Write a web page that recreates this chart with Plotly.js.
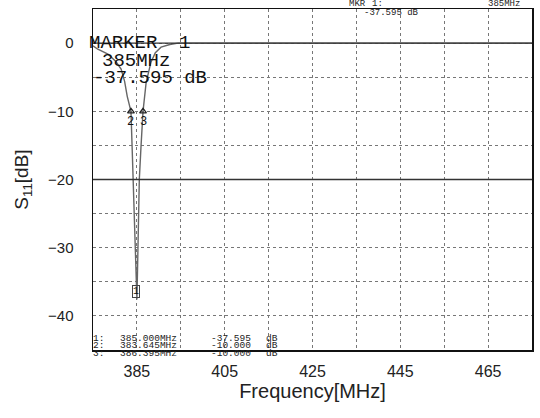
<!DOCTYPE html>
<html>
<head>
<meta charset="utf-8">
<script src="https://cdn.plot.ly/plotly-3.0.1.min.js"></script>
<style>html,body{margin:0;padding:0;background:#fff;}#chart{width:540px;height:418px;}</style>
</head>
<body>
<div id="chart"></div>
<script>
// Measured S11 trace (MHz, dB)
const freqMHz = [375, 376.1, 378.4, 380.2, 381.4, 382.2, 382.8, 383.645, 383.9, 384.15, 384.5, 384.8, 385,
                 385.15, 385.3, 385.55, 385.95, 386.395, 387.1, 388.2, 389.2, 390.5, 392.5, 394.4,
                 400, 410, 420, 430, 440, 450, 460, 470, 475];
const s11dB   = [-0.4, -0.9, -1.6, -2.7, -3.8, -5.6, -7.8, -10, -15, -20, -27, -33, -37.595,
                 -33, -27, -20, -15, -10, -5.8, -2.8, -1.4, -0.6, -0.2, 0,
                 0, 0, 0, 0, 0, 0, 0, 0, 0];

// Markers
const markerIds   = ["1", "2", "3"];
const markerFreq  = [385.000, 383.645, 386.395];
const markerDb    = [-37.595, -10.000, -10.000];
const markerFreqText = ["385.000MHz", "383.645MHz", "386.395MHz"];
const markerDbText   = ["-37.595", "-10.000", "-10.000"];

// Axis ticks
const xTickVals = [385, 405, 425, 445, 465];
const xGrid = [375, 385, 395, 405, 415, 425, 435, 445, 455, 465, 475];
const yTickVals = [0, -10, -20, -30, -40];
const yGrid = [5, 0, -5, -10, -15, -20, -25, -30, -35, -40, -45];
const refLines = [0, -20];

const L = 93, R = 532, T = 9, B = 350;
const px = x => (x - L) / (R - L);
const py = y => 1 - (y - T) / (B - T);
const mono = "Liberation Mono, DejaVu Sans Mono, monospace";
const sans = "Liberation Sans, Arial, sans-serif";

const annotations = [];
// Big marker readout
annotations.push({xref:'paper', yref:'paper', x:px(87), y:py(43), xanchor:'left', yanchor:'middle', text:'MARKER', showarrow:false, font:{family:mono, size:19, color:'#111'}});
annotations.push({xref:'paper', yref:'paper', x:px(177), y:py(43), xanchor:'left', yanchor:'middle', text:'1', showarrow:false, font:{family:mono, size:19, color:'#111'}});
annotations.push({xref:'paper', yref:'paper', x:px(100), y:py(61), xanchor:'left', yanchor:'middle', text:'385MHz', showarrow:false, font:{family:mono, size:19, color:'#111'}});
annotations.push({xref:'paper', yref:'paper', x:px(91), y:py(78), xanchor:'left', yanchor:'middle', text:'-37.595 dB', showarrow:false, font:{family:mono, size:19, color:'#111'}});
// Top readout
annotations.push({xref:'paper', yref:'paper', x:px(347), y:py(4), xanchor:'left', yanchor:'middle', text:'MKR', showarrow:false, font:{family:mono, size:9, color:'#222'}});
annotations.push({xref:'paper', yref:'paper', x:px(370), y:py(4), xanchor:'left', yanchor:'middle', text:'1:', showarrow:false, font:{family:mono, size:9, color:'#222'}});
annotations.push({xref:'paper', yref:'paper', x:px(362), y:py(13), xanchor:'left', yanchor:'middle', text:'-37.595 dB', showarrow:false, font:{family:mono, size:9, color:'#222'}});
annotations.push({xref:'paper', yref:'paper', x:px(486), y:py(4), xanchor:'left', yanchor:'middle', text:'385MHz', showarrow:false, font:{family:mono, size:9, color:'#222'}});
// Bottom marker table
const rowY = [338, 345.5, 353];
for (let i = 0; i < markerIds.length; i++) {
  const f = {family:mono, size:9.5, color:'#222'};
  annotations.push({xref:'paper', yref:'paper', x:px(92), y:py(rowY[i]), xanchor:'left', yanchor:'middle', text:markerIds[i] + ':', showarrow:false, font:f, borderpad:0});
  annotations.push({xref:'paper', yref:'paper', x:px(119), y:py(rowY[i]), xanchor:'left', yanchor:'middle', text:markerFreqText[i], showarrow:false, font:f, borderpad:0});
  annotations.push({xref:'paper', yref:'paper', x:px(210), y:py(rowY[i]), xanchor:'left', yanchor:'middle', text:markerDbText[i], showarrow:false, font:f, borderpad:0});
  annotations.push({xref:'paper', yref:'paper', x:px(265), y:py(rowY[i]), xanchor:'left', yanchor:'middle', text:'dB', showarrow:false, font:f, borderpad:0});
}
// Marker labels on trace
annotations.push({x:markerFreq[0], y:markerDb[0], xref:'x', yref:'y', text:markerIds[0], showarrow:false, yshift:8, xshift:-1,
  bordercolor:'#444', borderwidth:1, borderpad:0, font:{family:mono, size:10, color:'#111'}});
for (let i = 1; i < 3; i++) {
  annotations.push({x:markerFreq[i], y:markerDb[i], xref:'x', yref:'y', text:markerIds[i], showarrow:false, yanchor:'top', yshift:-2,
    font:{family:mono, size:12, color:'#111'}});
}

const shapes = refLines.map(v => ({type:'line', xref:'paper', x0:0, x1:1, yref:'y', y0:v, y1:v, line:{color:'#333', width:1.3}}));

const traces = [
  {x:freqMHz, y:s11dB, type:'scatter', mode:'lines', line:{color:'#666', width:1.4}, hoverinfo:'skip'},
  {x:markerFreq.slice(1), y:markerDb.slice(1), type:'scatter', mode:'markers',
   marker:{symbol:'triangle-up-open', size:6, color:'#222', line:{width:1.2}}, hoverinfo:'skip'}
];

const gridStyle = {showgrid:true, gridcolor:'#777', griddash:'dot', gridwidth:1};

const layout = {
  width:540, height:418,
  margin:{l:L, r:540-R, t:T, b:418-B},
  paper_bgcolor:'#fff', plot_bgcolor:'#fff',
  showlegend:false,
  xaxis:Object.assign({range:[375,475], tickmode:'array', tickvals:xTickVals,
    minor:Object.assign({tickmode:'array', tickvals:xGrid, ticks:''}, gridStyle),
    zeroline:false, showline:true, mirror:true, linecolor:'#111', linewidth:1.5, ticks:'', ticklabelstandoff:6,
    tickfont:{family:sans, size:16, color:'#222'},
    title:{text:'Frequency[MHz]', font:{family:sans, size:20, color:'#222'}, standoff:4}}, gridStyle),
  yaxis:Object.assign({range:[-45,5], tickmode:'array', tickvals:yTickVals,
    minor:Object.assign({tickmode:'array', tickvals:yGrid, ticks:''}, gridStyle),
    zeroline:false, showline:true, mirror:true, linecolor:'#111', linewidth:1.5, ticks:'', ticklabelstandoff:15,
    tickfont:{family:sans, size:15, color:'#222'},
    title:{text:'S<sub>11</sub>[dB]', font:{family:sans, size:19, color:'#222'}, standoff:14}}, gridStyle),
  annotations:annotations,
  shapes:shapes
};

Plotly.newPlot('chart', traces, layout, {displayModeBar:false, staticPlot:true});
</script>
</body>
</html>
